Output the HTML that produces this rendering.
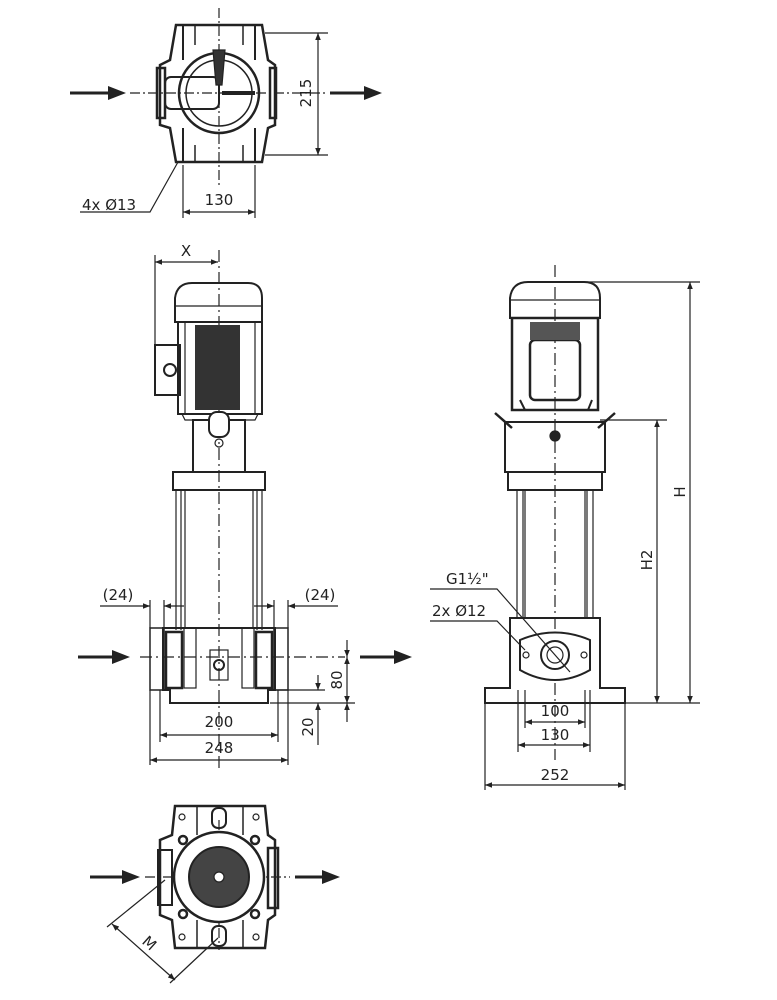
<!DOCTYPE html>
<html><head><meta charset="utf-8"><style>
html,body{margin:0;padding:0;background:#fff;}
svg{display:block;}
text{font-family:"DejaVu Sans","Liberation Sans",sans-serif;font-size:15px;fill:#222;}
</style></head><body>
<svg width="777" height="1000" viewBox="0 0 777 1000" xmlns="http://www.w3.org/2000/svg">
<defs>
<marker id="ar" viewBox="0 0 10 10" refX="10" refY="5" markerWidth="6" markerHeight="6" orient="auto-start-reverse"><path d="M0,1 L10,5 L0,9 z" fill="#222"/></marker>
</defs>
<g stroke="#222" fill="none" stroke-width="1.2">
<!-- ===== TOP VIEW ===== -->
<line x1="219" y1="8" x2="219" y2="185" stroke-dasharray="10,3,2,3"/>
<line x1="130" y1="93" x2="325" y2="93" stroke-dasharray="10,3,2,3"/>
<path d="M176,25 L262,25 L268,60 L275,65 L275,125 L268,128 L262,162 L176,162 L170,128 L160,125 L160,65 L170,60 Z" stroke-width="2.5"/>
<path d="M183,25 L183,60 M255,25 L255,60 M183,128 L183,162 M255,128 L255,162" stroke-width="2"/>
<path d="M195,25 L195,45 M243,25 L243,45 M195,145 L195,162 M243,145 L243,162" stroke-width="1.5"/>
<circle cx="219" cy="93" r="40" stroke-width="2.5"/>
<circle cx="219" cy="93" r="33" stroke-width="1.5"/>
<rect x="165" y="77" width="54" height="32" rx="6" stroke-width="2"/>
<path d="M213,50 L225,50 L222,85 L216,85 Z" fill="#333"/>
<line x1="222" y1="93" x2="255" y2="93" stroke-width="4"/>
<rect x="157" y="68" width="8" height="50" stroke-width="2.5"/>
<rect x="270" y="68" width="6" height="50" stroke-width="2.5"/>
<!-- dims -->
<line x1="265" y1="33" x2="328" y2="33"/>
<line x1="265" y1="155" x2="328" y2="155"/>
<line x1="318" y1="33" x2="318" y2="155" marker-start="url(#ar)" marker-end="url(#ar)"/>
<line x1="183" y1="165" x2="183" y2="218"/>
<line x1="255" y1="165" x2="255" y2="218"/>
<line x1="183" y1="212" x2="255" y2="212" marker-start="url(#ar)" marker-end="url(#ar)"/>
<polyline points="178,162 150,212 80,212"/>
<!-- ===== SIDE VIEW ===== -->
<line x1="219" y1="250" x2="219" y2="770" stroke-dasharray="12,4,2,4"/>
<line x1="140" y1="657" x2="345" y2="657" stroke-dasharray="12,4,2,4"/>
<line x1="155" y1="255" x2="155" y2="370"/>
<line x1="155" y1="262" x2="218" y2="262" marker-start="url(#ar)" marker-end="url(#ar)"/>
<path d="M175,322 L175,298 Q177,283 192,283 L248,283 Q262,283 262,298 L262,322 Z" stroke-width="2"/>
<line x1="175" y1="306" x2="262" y2="306"/>
<rect x="178" y="322" width="84" height="92" stroke-width="2"/>
<rect x="195" y="325" width="45" height="85" fill="#333" stroke="none"/>
<line x1="185" y1="322" x2="185" y2="414"/><line x1="255" y1="322" x2="255" y2="414"/>
<rect x="155" y="345" width="25" height="50" stroke-width="2"/>
<circle cx="170" cy="370" r="6" stroke-width="2"/>
<path d="M182,414 L258,414 L255,420 L185,420 Z"/>
<rect x="193" y="420" width="52" height="52" stroke-width="2"/>
<rect x="209" y="412" width="20" height="25" rx="8" fill="#fff" stroke-width="2"/>
<circle cx="219" cy="443" r="4"/>
<rect x="173" y="472" width="92" height="18" stroke-width="2"/>
<line x1="176" y1="490" x2="176" y2="630"/><line x1="181" y1="490" x2="181" y2="630"/>
<line x1="257" y1="490" x2="257" y2="630"/><line x1="262" y1="490" x2="262" y2="630"/>
<rect x="185" y="490" width="68" height="138"/>
<path d="M163,628 L275,628 L275,690 L268,690 L268,703 L170,703 L170,690 L163,690 Z" stroke-width="2"/>
<rect x="150" y="628" width="14" height="62" stroke-width="1.5"/>
<rect x="274" y="628" width="14" height="62" stroke-width="1.5"/>
<rect x="166" y="632" width="16" height="56" stroke-width="2.5"/>
<rect x="256" y="632" width="16" height="56" stroke-width="2.5"/>
<rect x="184" y="628" width="12" height="60"/><rect x="242" y="628" width="12" height="60"/>
<rect x="210" y="650" width="18" height="30"/><circle cx="219" cy="665" r="5" stroke-width="2"/>
<!-- (24) -->
<line x1="150" y1="600" x2="150" y2="628"/><line x1="164" y1="600" x2="164" y2="628"/>
<line x1="274" y1="600" x2="274" y2="628"/><line x1="288" y1="600" x2="288" y2="628"/>
<line x1="100" y1="606" x2="150" y2="606" marker-end="url(#ar)"/>
<line x1="184" y1="606" x2="164" y2="606" marker-end="url(#ar)"/>
<line x1="254" y1="606" x2="274" y2="606" marker-end="url(#ar)"/>
<line x1="338" y1="606" x2="288" y2="606" marker-end="url(#ar)"/>
<!-- 200/248 -->
<line x1="160" y1="690" x2="160" y2="742"/><line x1="278" y1="690" x2="278" y2="742"/>
<line x1="150" y1="690" x2="150" y2="765"/><line x1="288" y1="690" x2="288" y2="765"/>
<line x1="160" y1="735" x2="278" y2="735" marker-start="url(#ar)" marker-end="url(#ar)"/>
<line x1="150" y1="760" x2="288" y2="760" marker-start="url(#ar)" marker-end="url(#ar)"/>
<!-- 80/20 -->
<line x1="270" y1="690" x2="325" y2="690"/>
<line x1="270" y1="703" x2="355" y2="703"/>
<line x1="347" y1="640" x2="347" y2="657" marker-end="url(#ar)"/>
<line x1="347" y1="657" x2="347" y2="703" marker-start="url(#ar)" marker-end="url(#ar)"/>
<line x1="347" y1="703" x2="347" y2="722" marker-start="url(#ar)"/>
<line x1="318" y1="675" x2="318" y2="690" marker-end="url(#ar)"/>
<line x1="318" y1="703" x2="318" y2="745" marker-start="url(#ar)"/>
<!-- ===== RIGHT VIEW ===== -->
<line x1="555" y1="265" x2="555" y2="760" stroke-dasharray="12,4,2,4"/>
<path d="M510,318 L510,298 Q512,282 528,282 L584,282 Q600,282 600,298 L600,318 Z" stroke-width="2"/>
<line x1="510" y1="300" x2="600" y2="300"/>
<rect x="512" y="318" width="86" height="92" stroke-width="2.5"/>
<rect x="530" y="340" width="50" height="60" rx="5" stroke-width="2.5"/>
<rect x="530" y="322" width="50" height="18" fill="#555" stroke="none"/>
<path d="M525,410 L520,400 M588,410 L592,400" stroke-width="2"/>
<path d="M495,413 L512,428 M615,413 L598,428" stroke-width="2.5"/>
<rect x="505" y="422" width="100" height="50" stroke-width="2"/>
<circle cx="555" cy="436" r="5" fill="#222"/>
<rect x="508" y="472" width="94" height="18" stroke-width="2"/>
<line x1="517" y1="490" x2="517" y2="618"/><line x1="523" y1="490" x2="523" y2="618"/>
<line x1="587" y1="490" x2="587" y2="618"/><line x1="593" y1="490" x2="593" y2="618"/>
<rect x="525" y="490" width="60" height="128"/>
<path d="M510,618 L600,618 L600,688 L625,688 L625,703 L485,703 L485,688 L510,688 Z" stroke-width="2"/>
<path d="M520,640 Q555,625 590,640 L590,670 Q555,690 520,670 Z" stroke-width="2" fill="#fff"/>
<circle cx="555" cy="655" r="14" stroke-width="2"/><circle cx="555" cy="655" r="8"/>
<circle cx="526" cy="655" r="3"/><circle cx="584" cy="655" r="3"/>
<!-- leaders -->
<polyline points="430,589 497,589 570,672"/>
<polyline points="430,621 497,621 525,650"/>
<!-- H/H2 -->
<line x1="560" y1="282" x2="700" y2="282"/>
<line x1="600" y1="420" x2="667" y2="420"/>
<line x1="625" y1="703" x2="700" y2="703"/>
<line x1="690" y1="282" x2="690" y2="703" marker-start="url(#ar)" marker-end="url(#ar)"/>
<line x1="657" y1="420" x2="657" y2="703" marker-start="url(#ar)" marker-end="url(#ar)"/>
<!-- 100/130/252 -->
<line x1="525" y1="690" x2="525" y2="728"/><line x1="585" y1="690" x2="585" y2="728"/>
<line x1="518" y1="690" x2="518" y2="752"/><line x1="590" y1="690" x2="590" y2="752"/>
<line x1="485" y1="703" x2="485" y2="790"/><line x1="625" y1="703" x2="625" y2="790"/>
<line x1="525" y1="722" x2="585" y2="722" marker-start="url(#ar)" marker-end="url(#ar)"/>
<line x1="518" y1="745" x2="590" y2="745" marker-start="url(#ar)" marker-end="url(#ar)"/>
<line x1="485" y1="785" x2="625" y2="785" marker-start="url(#ar)" marker-end="url(#ar)"/>
<!-- ===== BOTTOM VIEW ===== -->
<line x1="219" y1="820" x2="219" y2="950" stroke-dasharray="10,3,2,3"/>
<line x1="145" y1="877" x2="290" y2="877" stroke-dasharray="10,3,2,3"/>
<path d="M175,806 L265,806 L268,835 L275,840 L275,915 L268,920 L265,948 L175,948 L172,920 L160,915 L160,840 L172,835 Z" stroke-width="2.5"/>
<path d="M197,806 L197,835 M243,806 L243,835 M197,920 L197,948 M243,920 L243,948" stroke-width="1.5"/>
<circle cx="219" cy="877" r="45" stroke-width="2.5" fill="#fff"/>
<circle cx="219" cy="877" r="30" fill="#444" stroke-width="2"/>
<circle cx="219" cy="877" r="5" fill="#fff"/>
<rect x="212" y="808" width="14" height="20" rx="6" stroke-width="2"/>
<rect x="212" y="926" width="14" height="20" rx="6" stroke-width="2"/>
<circle cx="182" cy="817" r="3"/><circle cx="256" cy="817" r="3"/><circle cx="182" cy="937" r="3"/><circle cx="256" cy="937" r="3"/>
<circle cx="183" cy="840" r="4" stroke-width="2.5"/><circle cx="255" cy="840" r="4" stroke-width="2.5"/>
<circle cx="183" cy="914" r="4" stroke-width="2.5"/><circle cx="255" cy="914" r="4" stroke-width="2.5"/>
<rect x="158" y="850" width="14" height="55" stroke-width="2"/>
<rect x="268" y="848" width="10" height="60" stroke-width="2.5"/>
<line x1="165" y1="880" x2="107" y2="927"/>
<line x1="218" y1="938" x2="170" y2="983"/>
<line x1="112" y1="924" x2="175" y2="980" marker-start="url(#ar)" marker-end="url(#ar)"/>
</g>
<!-- solid arrows -->
<g fill="#222" stroke="#222" stroke-width="3">
<line x1="70" y1="93" x2="110" y2="93"/><path d="M108,86 L126,93 L108,100 Z" stroke="none"/>
<line x1="330" y1="93" x2="366" y2="93"/><path d="M364,86 L382,93 L364,100 Z" stroke="none"/>
<line x1="78" y1="657" x2="114" y2="657"/><path d="M112,650 L130,657 L112,664 Z" stroke="none"/>
<line x1="360" y1="657" x2="396" y2="657"/><path d="M394,650 L412,657 L394,664 Z" stroke="none"/>
<line x1="90" y1="877" x2="124" y2="877"/><path d="M122,870 L140,877 L122,884 Z" stroke="none"/>
<line x1="295" y1="877" x2="324" y2="877"/><path d="M322,870 L340,877 L322,884 Z" stroke="none"/>
</g>
<!-- labels -->
<text x="311" y="93" transform="rotate(-90 311 93)" text-anchor="middle">215</text>
<text x="219" y="205" text-anchor="middle">130</text>
<text x="82" y="210">4x Ø13</text>
<text x="186" y="256" text-anchor="middle" font-size="13">X</text>
<text x="118" y="600" text-anchor="middle">(24)</text>
<text x="320" y="600" text-anchor="middle">(24)</text>
<text x="219" y="727" text-anchor="middle">200</text>
<text x="219" y="753" text-anchor="middle">248</text>
<text x="342" y="680" transform="rotate(-90 342 680)" text-anchor="middle">80</text>
<text x="313" y="727" transform="rotate(-90 313 727)" text-anchor="middle">20</text>
<text x="685" y="492" transform="rotate(-90 685 492)" text-anchor="middle">H</text>
<text x="652" y="560" transform="rotate(-90 652 560)" text-anchor="middle">H2</text>
<text x="446" y="584">G1½"</text>
<text x="432" y="616">2x Ø12</text>
<text x="555" y="716" text-anchor="middle">100</text>
<text x="555" y="740" text-anchor="middle">130</text>
<text x="555" y="780" text-anchor="middle">252</text>
<text x="146" y="947" transform="rotate(42 146 947)" text-anchor="middle">M</text>
</svg>
</body></html>
